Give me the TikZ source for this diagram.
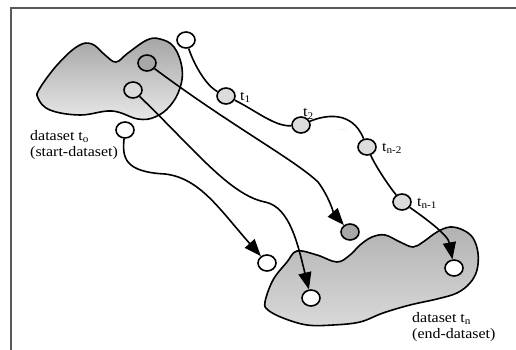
\documentclass[tikz,border=0pt]{standalone}
\usepackage{fontspec}
\setmainfont{Liberation Serif}
\newfontfamily\lblfont[FakeStretch=1.1]{Liberation Serif}
\usetikzlibrary{shapes.geometric,arrows.meta}
\definecolor{dkgray}{HTML}{A8A8A8}
\definecolor{ltgray}{HTML}{DCDCDC}
\tikzset{
  dot/.style={shape=ellipse, draw, line width=1.6pt, minimum width=18pt, minimum height=16pt, inner sep=0pt},
  wdot/.style={dot, fill=white},
  ldot/.style={dot, fill=ltgray},
  ddot/.style={dot, fill=dkgray},
  conn/.style={line width=1.6pt},
  arr/.style={conn, -{Triangle[length=17pt,width=13pt]}},
  blob/.style={line width=1.6pt, draw=black},
  lbl/.style={font=\lblfont\fontsize{14.5}{16}\selectfont, inner sep=0pt, anchor=base west},
  frame/.style={line width=1.3pt, draw=black!65}
}
\begin{document}
\begin{tikzpicture}[x=1pt,y=-1pt]
\useasboundingbox (0,0) rectangle (516,350);
\draw[frame] (11,350) -- (11,8) -- (516,8);
% start blob
\draw[blob, top color=black!35, bottom color=black!9]
  plot[smooth cycle, tension=0.65] coordinates {
  (40,88) (58,64) (78,46) (92,44) (105,55) (116,62) (128,53) (147,40) (160,39)
  (174,47) (182,68) (180,88) (170,106) (155,117) (138,119) (112,111) (80,115) (50,110) (38,98)};
% end blob
\draw[blob, top color=black!30, bottom color=black!15]
  plot[smooth cycle, tension=0.6] coordinates {
  (265,302) (273,280) (287,262) (297,251) (317,255) (337,262) (350,255) (360,245)
  (372,237) (385,235) (400,242) (413,247) (423,242) (437,232) (450,227) (463,230)
  (473,238) (478,253) (477,270) (470,283) (457,293) (437,299) (410,305) (383,313)
  (360,322) (333,325) (307,325) (283,318) (268,310)};
% nodes
\node[ddot] (A) at (147,63) {};
\node[ldot] (B) at (133,90) {};
\node[wdot] (C) at (125,130) {};
\node[wdot] (D) at (186,40) {};
\node[ldot] (T1) at (226,96) {};
\node[ldot] (T2) at (301,125) {};
\node[ldot] (Tn2) at (367,147) {};
\node[ldot] (Tn1) at (402,202) {};
\node[wdot] (E) at (454,268) {};
\node[ddot] (F) at (350,232) {};
\node[wdot] (G) at (311,298) {};
\node[wdot] (H) at (267,263) {};
% chain
\draw[conn] (D) .. controls (193,62) and (205,85) .. (T1);
\draw[conn] (T1) .. controls (255,110) and (275,127) .. (T2);
\draw[conn] (T2) .. controls (325,115) and (352,110) .. (Tn2);
\draw[conn] (Tn2) .. controls (375,165) and (388,185) .. (Tn1);
\draw[arr] (Tn1) .. controls (425,218) and (448,235) .. (E);
% arrows
\draw[arr] (A) .. controls (230,125) and (295,160) .. (318,182) .. controls (328,195) and (335,215) .. (F);
\draw[arr] (B) .. controls (195,150) and (230,195) .. (265,202) .. controls (290,207) and (298,245) .. (G);
\draw[arr] (C) .. controls (122,158) and (125,172) .. (165,174) .. controls (200,178) and (220,210) .. (H);
% labels
\node[lbl] (l1) at (240,100) {t\textsubscript{1}};
\node[lbl] (l2) at (303,117) {t\textsubscript{2}};
\node[lbl] (l3) at (382,151) {t\textsubscript{n-2}};
\node[lbl] (l4) at (417,206) {t\textsubscript{n-1}};
\node[font=\fontsize{7}{7}\selectfont, text=black!35, inner sep=0pt] (dots) at (343,130) {.\,.\,.};
\node[lbl] (s1) at (30,140) {dataset t\textsubscript{o}};
\node[lbl] (s2) at (30,156.5) {(start-dataset)};
\node[lbl] (e1) at (412,322) {dataset t\textsubscript{n}};
\node[lbl] (e2) at (412,338.5) {(end-dataset)};
\end{tikzpicture}
\end{document}
